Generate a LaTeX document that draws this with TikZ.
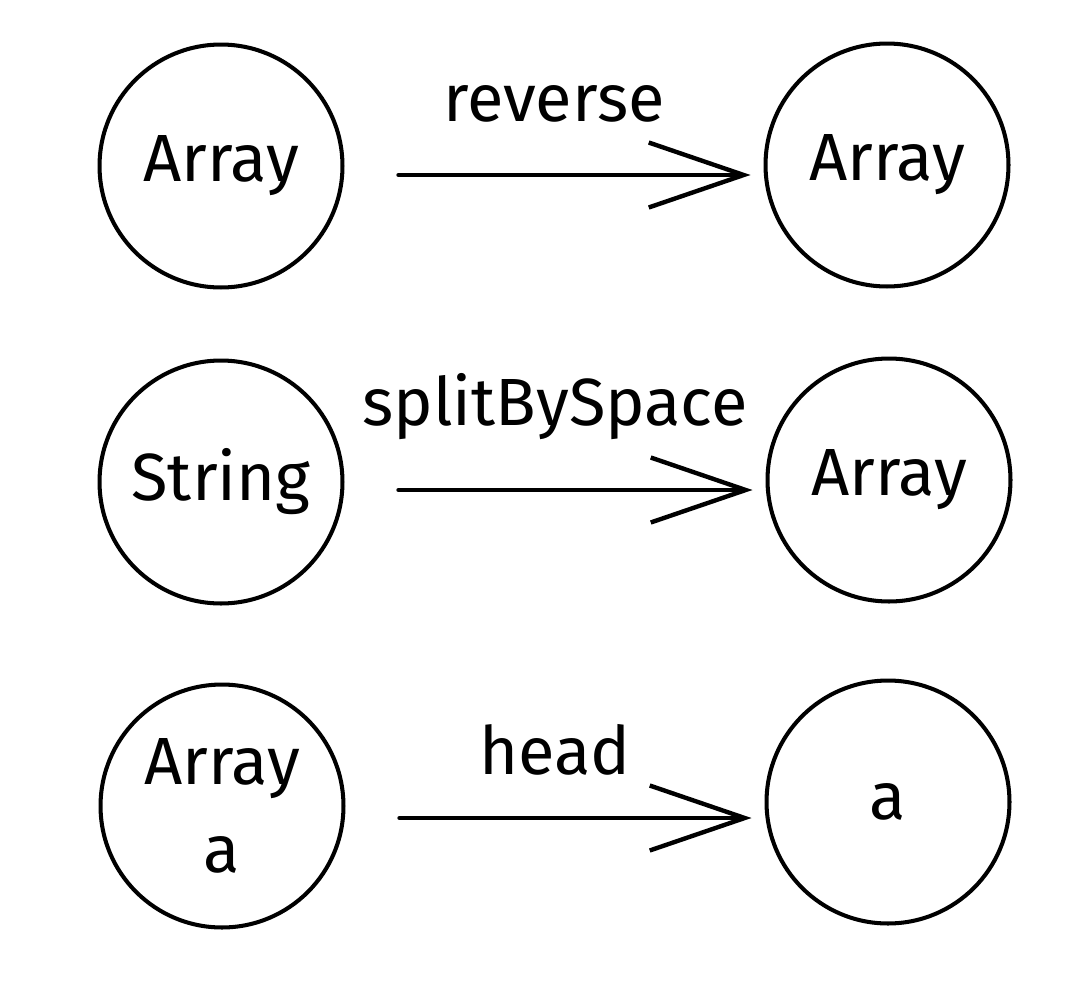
\documentclass[tikz,border=0pt]{standalone}
\usepackage{fontspec}
\setmainfont{Fira Sans}
\usetikzlibrary{arrows.meta}
\tikzset{
  typ/.style={draw, circle, minimum size=4.86cm, line width=2.3pt, align=center,
    font=\fontsize{38}{50}\selectfont},
  flow/.style={line width=2.5pt, -{Straight Barb[length=1.9cm, width=1.3cm, line width=2.5pt]},
    shorten <=1.08cm, shorten >=0.26cm},
  fname/.style={font=\fontsize{38}{44}\selectfont}
}
\begin{document}
\begin{tikzpicture}[x=0.02cm, y=-0.02cm, line join=round, line cap=round]
		\useasboundingbox (0,0) rectangle (1088,984);
		% left column
		\node[typ] (a1) at (221,166) {Array};
		\node[typ] (a2) at (221,482) {String};
		\node[typ] (a3) at (222,806) {Array\\a};
		% right column
		\node[typ] (b1) at (887,165) {Array};
		\node[typ] (b2) at (889,480) {Array};
		\node[typ] (b3) at (888,802) {a};
		% functions
		\draw[flow] ([yshift=-0.18cm]a1.east) -- ([yshift=-0.18cm]a1.east -| b1.west) node[fname, midway, yshift=1.42cm]{reverse};
		\draw[flow] ([yshift=-0.16cm]a2.east) -- ([yshift=-0.16cm]a2.east -| b2.west) node[fname, midway, yshift=1.66cm]{splitBySpace};
		\draw[flow] ([yshift=-0.24cm]a3.east) -- ([yshift=-0.24cm]a3.east -| b3.west) node[fname, midway, yshift=1.36cm]{head};
\end{tikzpicture}
\end{document}
